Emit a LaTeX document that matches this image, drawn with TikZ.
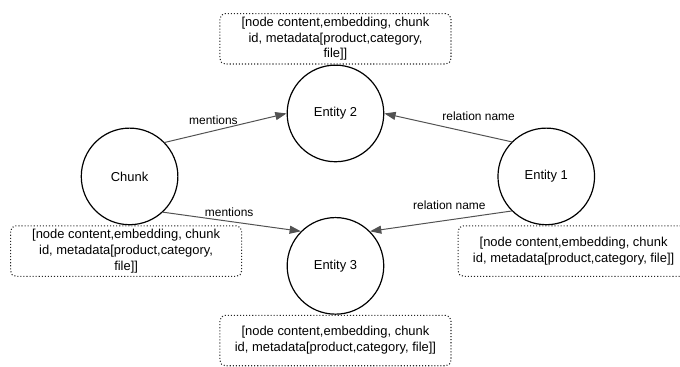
\documentclass[tikz,border=0pt]{standalone}
\usepackage{fontspec}
\setmainfont{Liberation Sans}
\usetikzlibrary{arrows.meta,positioning}

\begin{document}
\begin{tikzpicture}[>={Triangle[length=8.5pt,width=6pt]}, every node/.style={font=\fontsize{9}{11}\selectfont}]
% styles
\tikzstyle{entity}=[circle,draw,line width=0.9pt,minimum size=72.75pt,inner sep=0pt,font=\fontsize{9.75}{11.25}\selectfont]
\tikzstyle{props}=[rectangle,draw=black!85,rounded corners=4pt,dash pattern=on 0.8pt off 1.5pt,line width=0.8pt,minimum width=174pt,minimum height=38pt,inner sep=0pt,align=center,font=\fontsize{9.75}{11.9}\selectfont]
\tikzstyle{link}=[->,draw=black!68,line width=0.75pt]

\useasboundingbox (-3.43,-5.04) rectangle (14.57,4.67);
\clip (-3.43,-5.04) rectangle (14.57,4.67);

% graph nodes
\node[entity] (chunk) at (0,0) {Chunk};
\node[entity] (e2) at (5.45,1.667) {Entity 2};
\node[entity] (e3) at (5.45,-2.368) {Entity 3};
\node[entity] (e1) at (11.03,0) {Entity 1};

% property boxes
\node[props,above=0pt of e2] (p2) {[node content,embedding, chunk\\id, metadata[product,category,\\file]]};
\node[props,below=0pt of chunk,xshift=-2.6pt] (pc) {[node content,embedding, chunk\\id, metadata[product,category,\\file]]};
\node[props,below=0pt of e1,xshift=20.6pt] (p1) {[node content,embedding, chunk\\id, metadata[product,category, file]]};
\node[props,below=0pt of e3] (p3) {[node content,embedding, chunk\\id, metadata[product,category, file]]};

% chunk mentions entities
\draw[link] (chunk.44) -- node[pos=0.4,above=1pt] {mentions} (e2.west);
\draw[link] (chunk.-47) -- node[pos=0.48,above] {mentions} (e3.135);

% relations from entity 1
\draw[link] (e1.135) -- node[pos=0.26,above=7pt] {relation name} (e2.east);
\draw[link] (e1.225) -- node[pos=0.44,above=4pt] {relation name} (e3.45);

\end{tikzpicture}
\end{document}
